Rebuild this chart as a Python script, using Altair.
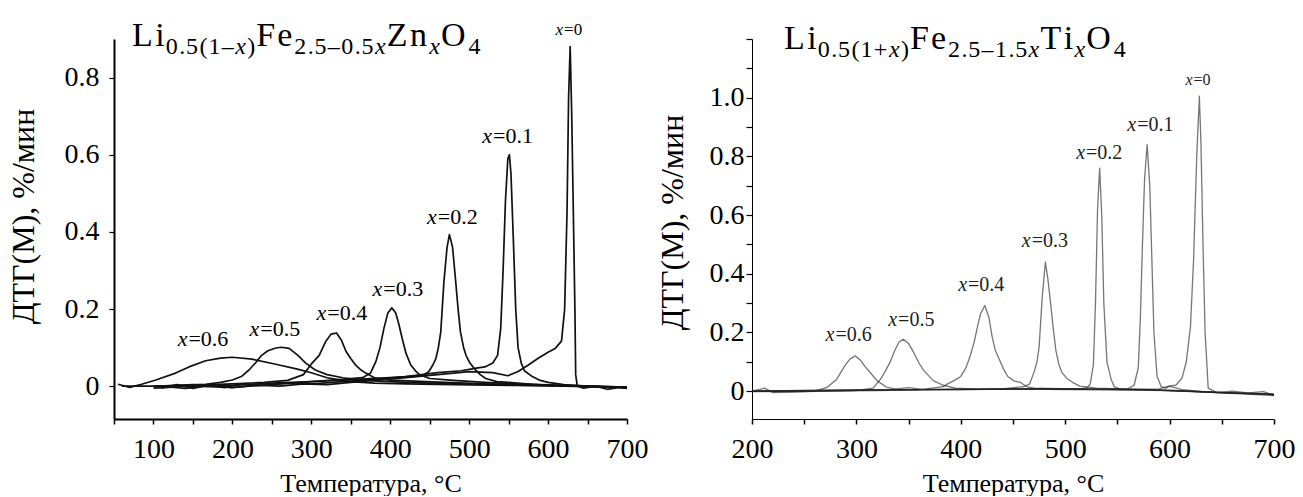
import altair as alt
import pandas as pd

FONT = "Liberation Serif"

# ---------------- Left panel: Li0.5(1-x)Fe2.5-0.5xZnxO4 ----------------
zn_T_06 = [55, 70, 85, 103, 128, 145, 166, 185, 200, 225, 255, 281, 300, 320, 350, 380, 420, 480, 560, 640, 700]
zn_v_06 = [0.005, -0.003, 0.005, 0.016, 0.034, 0.05, 0.066, 0.073, 0.075, 0.07, 0.057, 0.045, 0.035, 0.022, 0.012, 0.008, 0.006, 0.004, 0.002, 0.0, -0.003]

zn_T_05 = [60, 100, 140, 166, 185, 200, 212, 221, 230, 237, 245, 255, 262, 272, 283, 293, 305, 320, 340, 357, 380, 420, 480, 560, 640, 700]
zn_v_05 = [0.0, 0.0, 0.002, 0.005, 0.01, 0.016, 0.026, 0.042, 0.062, 0.08, 0.092, 0.099, 0.101, 0.098, 0.08, 0.06, 0.042, 0.03, 0.022, 0.018, 0.014, 0.01, 0.006, 0.003, 0.0, -0.004]

zn_T_04 = [100, 150, 200, 240, 270, 290, 301, 310, 318, 325, 332, 338, 344, 350, 356, 363, 369, 380, 400, 430, 470, 520, 600, 700]
zn_v_04 = [0.0, 0.002, 0.006, 0.01, 0.015, 0.03, 0.06, 0.08, 0.115, 0.135, 0.138, 0.12, 0.09, 0.072, 0.055, 0.042, 0.034, 0.022, 0.016, 0.013, 0.01, 0.006, 0.002, -0.002]

zn_T_03 = [100, 150, 200, 250, 300, 340, 365, 375, 382, 387, 392, 397, 402, 407, 411, 415, 420, 426, 432, 437, 450, 480, 520, 560, 620, 700]
zn_v_03 = [-0.005, 0.0, -0.003, 0.004, 0.012, 0.018, 0.022, 0.034, 0.065, 0.1, 0.15, 0.19, 0.203, 0.19, 0.16, 0.125, 0.085, 0.055, 0.04, 0.03, 0.02, 0.015, 0.01, 0.006, 0.002, -0.002]

zn_T_02 = [110, 150, 200, 250, 300, 350, 400, 430, 443, 449, 454, 458, 461, 464, 468, 472, 475, 479, 483, 486, 489, 493, 496, 501, 506, 514, 521, 535, 550, 580, 620, 700]
zn_v_02 = [0.0, 0.004, 0.002, 0.008, 0.012, 0.017, 0.022, 0.026, 0.03, 0.038, 0.055, 0.073, 0.1, 0.14, 0.27, 0.36, 0.393, 0.36, 0.27, 0.2, 0.14, 0.1, 0.08, 0.06, 0.047, 0.03, 0.02, 0.012, 0.01, 0.005, 0.0, -0.003]

zn_T_01 = [110, 130, 150, 170, 190, 210, 240, 270, 300, 340, 380, 420, 460, 490, 509, 520, 530, 536, 540, 543, 546, 549, 551, 553, 556, 559, 562, 566, 570, 580, 590, 600, 620, 650, 700]
zn_v_01 = [-0.005, 0.004, -0.006, 0.003, -0.004, 0.006, 0.002, 0.009, 0.006, 0.012, 0.018, 0.025, 0.035, 0.04, 0.047, 0.05, 0.06, 0.08, 0.15, 0.3, 0.48, 0.59, 0.6, 0.55, 0.38, 0.2, 0.1, 0.06, 0.04, 0.025, 0.015, 0.01, 0.004, 0.0, -0.004]

zn_T_00 = [110, 140, 170, 200, 230, 260, 290, 320, 350, 380, 420, 460, 500, 530, 549, 562, 575, 587, 600, 609, 617, 621, 624, 626, 628, 630, 632, 634, 635, 637, 645, 660, 675, 690, 700]
zn_v_00 = [0.0, -0.006, 0.002, -0.004, 0.003, 0.0, 0.006, 0.004, 0.01, 0.015, 0.022, 0.03, 0.038, 0.035, 0.027, 0.038, 0.055, 0.072, 0.088, 0.098, 0.117, 0.2, 0.45, 0.75, 0.88, 0.7, 0.45, 0.2, 0.03, 0.0, -0.005, 0.0, -0.008, -0.003, -0.006]

zn_label_text = ["=0.6", "=0.5", "=0.4", "=0.3", "=0.2", "=0.1", "=0"]
zn_label_T = [143, 234, 319, 390, 459, 529, 619]
zn_label_v = [0.104, 0.13, 0.172, 0.235, 0.42, 0.63, 0.91]

zn_x_ticks = [50, 100, 150, 200, 250, 300, 350, 400, 450, 500, 550, 600, 650, 700]
zn_y_ticks = [0, 0.2, 0.4, 0.6, 0.8]

# ---------------- Right panel: Li0.5(1+x)Fe2.5-1.5xTixO4 ----------------
ti_T_06 = [200, 212, 220, 240, 260, 272, 281, 289, 294, 299, 304, 308, 314, 320, 329, 338, 350, 365, 400, 450, 500, 550, 600, 650, 700]
ti_v_06 = [0.0, 0.01, -0.005, -0.003, 0.0, 0.013, 0.04, 0.087, 0.11, 0.12, 0.105, 0.085, 0.06, 0.035, 0.013, 0.008, 0.012, 0.005, 0.004, 0.008, 0.005, 0.004, 0.002, -0.004, -0.012]

ti_T_05 = [200, 250, 300, 316, 323, 328, 332, 337, 341, 345, 350, 355, 360, 365, 374, 383, 395, 420, 460, 520, 580, 640, 700]
ti_v_05 = [0.0, -0.002, 0.002, 0.01, 0.04, 0.07, 0.097, 0.14, 0.168, 0.177, 0.162, 0.131, 0.095, 0.068, 0.035, 0.02, 0.01, 0.006, 0.008, 0.006, 0.004, -0.004, -0.015]

ti_T_04 = [200, 260, 320, 360, 383, 387, 393, 400, 405, 409, 413, 416, 419, 423, 427, 430, 433, 437, 441, 445, 451, 457, 463, 470, 490, 540, 600, 650, 700]
ti_v_04 = [-0.002, 0.0, 0.002, 0.004, 0.015, 0.024, 0.035, 0.05, 0.08, 0.12, 0.17, 0.22, 0.265, 0.292, 0.25, 0.186, 0.14, 0.107, 0.075, 0.05, 0.035, 0.03, 0.015, 0.01, 0.008, 0.006, 0.003, -0.005, -0.01]

ti_T_03 = [200, 280, 360, 440, 460, 466, 470, 473, 475, 478, 481, 483.5, 486, 489, 491, 494, 497, 502, 507, 514, 530, 580, 640, 700]
ti_v_03 = [0.0, 0.002, 0.005, 0.008, 0.015, 0.025, 0.063, 0.1, 0.15, 0.32, 0.44, 0.38, 0.3, 0.2, 0.14, 0.09, 0.063, 0.042, 0.03, 0.017, 0.01, 0.005, -0.003, -0.012]

ti_T_02 = [200, 300, 400, 480, 515, 521, 524, 527, 529, 531, 533, 535, 537, 540, 544, 547, 552, 580, 640, 700]
ti_v_02 = [0.0, 0.004, 0.006, 0.009, 0.008, 0.012, 0.025, 0.09, 0.3, 0.62, 0.76, 0.6, 0.3, 0.1, 0.04, 0.015, 0.008, 0.004, -0.004, -0.01]

ti_T_01 = [200, 300, 400, 500, 560, 566, 570, 572, 574, 576, 578.5, 581, 583, 585, 588, 592, 596, 600, 605, 612, 640, 700]
ti_v_01 = [0.0, 0.004, 0.006, 0.008, 0.008, 0.02, 0.08, 0.25, 0.5, 0.72, 0.84, 0.7, 0.45, 0.2, 0.05, 0.015, 0.01, 0.016, 0.012, 0.005, -0.004, -0.012]

ti_T_00 = [200, 300, 400, 500, 560, 590, 600, 606, 612, 616, 620, 623, 626, 628.5, 630, 632, 634, 637, 645, 660, 675, 690, 700]
ti_v_00 = [0.0, 0.003, 0.006, 0.008, 0.006, 0.008, 0.018, 0.02, 0.045, 0.1, 0.22, 0.45, 0.8, 1.005, 0.85, 0.5, 0.2, 0.01, -0.005, 0.0, -0.006, -0.002, -0.015]

ti_label_text = ["=0.6", "=0.5", "=0.4", "=0.3", "=0.2", "=0.1", "=0"]
ti_label_T = [279, 339, 406, 467, 519, 568, 622]
ti_label_v = [0.17, 0.222, 0.34, 0.49, 0.79, 0.887, 1.043]

ti_x_ticks = [200, 250, 300, 350, 400, 450, 500, 550, 600, 650, 700]
ti_y_ticks = [0, 0.1, 0.2, 0.3, 0.4, 0.5, 0.6, 0.7, 0.8, 0.9, 1.0, 1.1, 1.2]

# ---------------- helpers ----------------
CHAR_W = {'L': .611, 'i': .278, 'F': .556, 'e': .444, 'Z': .611, 'n': .5, 'O': .722,
          'T': .611, '.': .25, '(': .333, ')': .333, '–': .5, '+': .564, 'x': .444}
for d in "0123456789":
    CHAR_W[d] = .5


def curves_frame(series):
    rows = []
    for name, Ts, vs in series:
        for i, (t, v) in enumerate(zip(Ts, vs)):
            rows.append({"s": name, "i": i, "T": t, "v": v})
    return pd.DataFrame(rows)


def title_frame(segs, xdom, ydom, w, h, x0_px, base_px, main_fs, sub_fs, sub_dy, stretch):
    rows = []
    px = x0_px
    for text, kind in segs:
        fs = main_fs if kind == "m" else sub_fs
        dy = 0 if kind == "m" else sub_dy
        for ch in text:
            rows.append({
                "ch": ch,
                "T": xdom[0] + px * (xdom[1] - xdom[0]) / w,
                "v": ydom[1] - (base_px + dy) * (ydom[1] - ydom[0]) / h,
                "fs": fs,
                "it": kind == "si",
            })
            px += CHAR_W[ch] * fs * stretch
    return pd.DataFrame(rows)


def panel(series, lab_text, lab_T, lab_v, segs, xdom, ydom, w, h, xticks, yticks,
          y_label_expr, line_color, line_opacity, line_width, axis_width, lab_pad,
          tick_len, title_y, title_pad, title_x0, title_base, lab_fs, lab_fs0, lab_color):
    x_axis = alt.Axis(values=xticks, labelExpr="datum.value % 100 === 0 ? datum.label : ''",
                      title="Температура,  °C", grid=False, domainColor="black",
                      domainWidth=axis_width, tickColor="black", tickWidth=1.5, tickSize=5,
                      labelFont=FONT, labelFontSize=28, labelColor="black", labelPadding=11,
                      labelFlush=False, labelOverlap=False, titleFont=FONT, titleFontSize=26,
                      titleFontWeight="normal", titleColor="black", titlePadding=7)
    y_axis = alt.Axis(values=yticks, labelExpr=y_label_expr, title="ДТГ(М), %/мин",
                      grid=False, domainColor="black", domainWidth=axis_width,
                      tickColor="black", tickWidth=1.2, tickSize=tick_len,
                      labelFont=FONT, labelFontSize=28, labelColor="black",
                      labelPadding=lab_pad, labelOverlap=False, labelFlush=False,
                      titleFont=FONT, titleFontSize=32, titleFontWeight="normal",
                      titleColor="black", titlePadding=title_pad, titleY=title_y)
    xs = alt.Scale(domain=xdom, nice=False, zero=False)
    ys = alt.Scale(domain=ydom, nice=False, zero=False)
    X = alt.X("T:Q", scale=xs, axis=x_axis)
    Y = alt.Y("v:Q", scale=ys, axis=y_axis)

    lines = alt.Chart(curves_frame(series)).mark_line(
        color=line_color, opacity=line_opacity, strokeWidth=line_width, clip=True,
        strokeJoin="round").encode(x=X, y=Y, detail="s:N", order="i:Q")

    lab_df = pd.DataFrame({"T": lab_T, "v": lab_v, "t": lab_text})
    lab_df["fs"] = [lab_fs0 if t == "=0" else lab_fs for t in lab_text]
    lab_x = alt.Chart(lab_df).mark_text(
        text="x", align="right", baseline="alphabetic", font=FONT, fontStyle="italic",
        color=lab_color).encode(x=X, y=Y, size=alt.Size("fs:Q", scale=None))
    lab_r = alt.Chart(lab_df).mark_text(
        align="left", baseline="alphabetic", font=FONT, color=lab_color, dx=1
    ).encode(x=X, y=Y, text="t:N", size=alt.Size("fs:Q", scale=None))

    tdf = title_frame(segs, xdom, ydom, w, h, title_x0, title_base, 34, 24, 8, 1.12)
    t_reg = alt.Chart(tdf[~tdf["it"]]).mark_text(
        align="left", baseline="alphabetic", font=FONT, color="black"
    ).encode(x=X, y=Y, text="ch:N", size=alt.Size("fs:Q", scale=None))
    t_it = alt.Chart(tdf[tdf["it"]]).mark_text(
        align="left", baseline="alphabetic", font=FONT, fontStyle="italic", color="black"
    ).encode(x=X, y=Y, text="ch:N", size=alt.Size("fs:Q", scale=None))

    return alt.layer(lines, lab_x, lab_r, t_reg, t_it).properties(width=w, height=h)


left = panel(
    [("0.6", zn_T_06, zn_v_06), ("0.5", zn_T_05, zn_v_05), ("0.4", zn_T_04, zn_v_04),
     ("0.3", zn_T_03, zn_v_03), ("0.2", zn_T_02, zn_v_02), ("0.1", zn_T_01, zn_v_01),
     ("0", zn_T_00, zn_v_00)],
    zn_label_text, zn_label_T, zn_label_v,
    [("Li", "m"), ("0.5(1–", "s"), ("x", "si"), (")", "s"), ("Fe", "m"), ("2.5–0.5", "s"),
     ("x", "si"), ("Zn", "m"), ("x", "si"), ("O", "m"), ("4", "s")],
    [50, 700], [-0.085, 0.9], 513, 380, zn_x_ticks, zn_y_ticks,
    "datum.value === 0 ? '0' : format(datum.value, '.1f')",
    "#111111", 1.0, 1.7, 2, 10, 5, 177, 24, 18, 6.5, 22, 17, "black")

right = panel(
    [("0.6", ti_T_06, ti_v_06), ("0.5", ti_T_05, ti_v_05), ("0.4", ti_T_04, ti_v_04),
     ("0.3", ti_T_03, ti_v_03), ("0.2", ti_T_02, ti_v_02), ("0.1", ti_T_01, ti_v_01),
     ("0", ti_T_00, ti_v_00)],
    ti_label_text, ti_label_T, ti_label_v,
    [("Li", "m"), ("0.5(1+", "s"), ("x", "si"), (")", "s"), ("Fe", "m"), ("2.5–1.5", "s"),
     ("x", "si"), ("Ti", "m"), ("x", "si"), ("O", "m"), ("4", "s")],
    [200, 700], [-0.095, 1.2], 522, 380, ti_x_ticks, ti_y_ticks,
    "datum.value > 1.05 ? '' : (round(datum.value * 10) % 2 === 0 ? (datum.value === 0 ? '0' : format(datum.value, '.1f')) : '')",
    "#222222", 0.62, 1.3, 1, 2, 6, 183, 20, 32, 10, 20, 16, "#222222")

chart = alt.hconcat(left, right, spacing=8).properties(
    padding={"left": 7, "top": 18, "right": 5, "bottom": 0},
    background="white",
).configure_view(stroke=None)

chart.save("out.html", embed_options={"renderer": "svg", "actions": False})
